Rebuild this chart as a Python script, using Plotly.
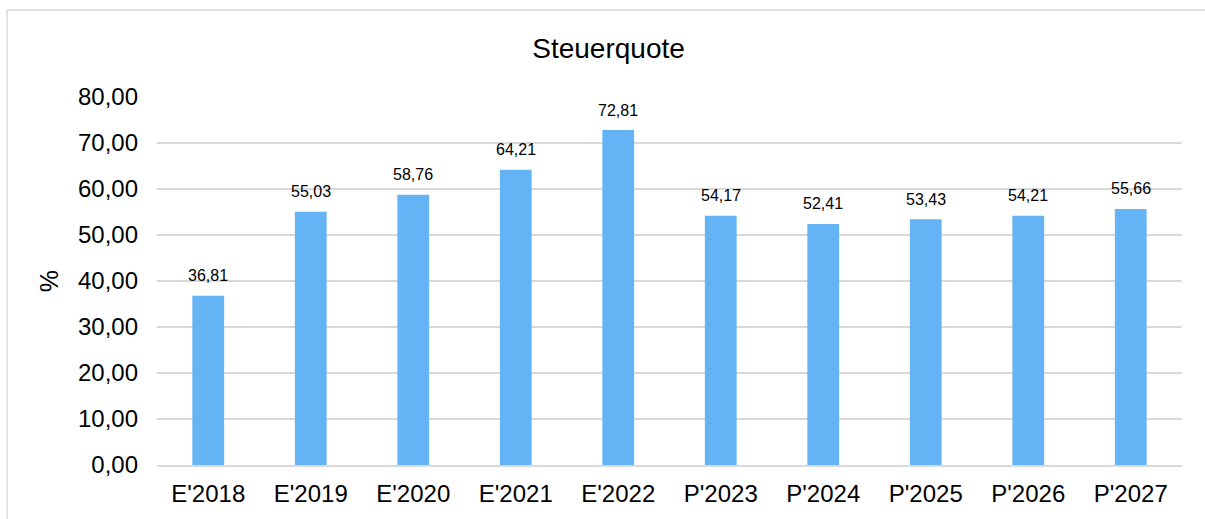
import plotly.graph_objects as go

years = ["E'2018", "E'2019", "E'2020", "E'2021", "E'2022",
         "P'2023", "P'2024", "P'2025", "P'2026", "P'2027"]
quote = [36.81, 55.03, 58.76, 64.21, 72.81, 54.17, 52.41, 53.43, 54.21, 55.66]
tick_vals = [0, 10, 20, 30, 40, 50, 60, 70, 80]
tick_text = ["0,00", "10,00", "20,00", "30,00", "40,00",
             "50,00", "60,00", "70,00", "80,00"]

labels = [f"{v:.2f}".replace(".", ",") for v in quote]

fig = go.Figure()
fig.add_trace(go.Bar(
    x=years, y=quote,
    marker=dict(color="#63B3F5", line=dict(width=0)),
    width=0.31, hoverinfo="x+y",
))

# value labels a bit above the bars
for yr, v, lab in zip(years, quote, labels):
    fig.add_annotation(x=yr, y=v, text=lab, showarrow=False,
                       yanchor="middle", yshift=20,
                       font=dict(size=16, color="#000000"))

fig.update_layout(
    width=1205, height=519,
    margin=dict(l=157, r=23, t=97, b=54),
    paper_bgcolor="white", plot_bgcolor="white",
    font=dict(family="Liberation Sans, Arial", color="#000000"),
    title=dict(text="Steuerquote", x=0.505, xref="container", xanchor="center",
               y=0.9075, yanchor="middle",
               font=dict(size=28, color="#000000")),
    showlegend=False,
)
fig.update_yaxes(range=[0, 80], tickvals=tick_vals, ticktext=tick_text,
                 tickfont=dict(size=24), showgrid=True, gridcolor="#D9D9D9",
                 gridwidth=1.5, zeroline=False, ticks="", ticklen=0,
                 ticklabelstandoff=18,
                 title=dict(text="%", font=dict(size=25), standoff=12))
fig.update_xaxes(tickfont=dict(size=24), showline=True, linecolor="#D9D9D9",
                 linewidth=1.5, ticks="", ticklabelstandoff=6)

# chart border
fig.add_shape(type="rect", xref="paper", yref="paper",
              x0=-0.1463, x1=1.05, y0=-0.2, y1=1.2364,
              line=dict(color="#D9D9D9", width=1.5), fillcolor="rgba(0,0,0,0)",
              layer="below")

fig.write_html("out.html", config={"displayModeBar": False},
               post_script="document.body.style.margin='0';")
